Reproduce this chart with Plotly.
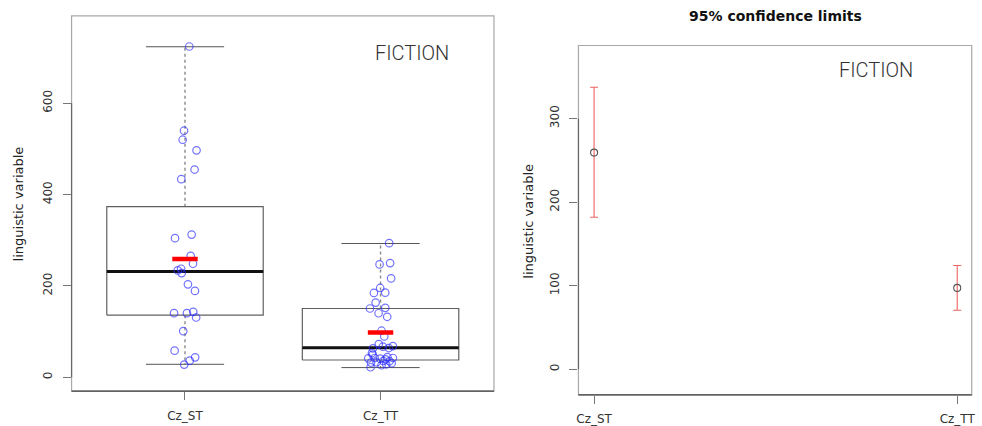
import plotly.graph_objects as go

# ---------------- data ----------------
groups = ["Cz_ST", "Cz_TT"]

st_values = [724, 539.7, 520, 496.8, 454.7, 433.6, 312.3, 304.4, 265.8, 248.4,
             233.8, 237.5, 228, 203.3, 188.9, 140.2, 140.2, 143.1, 130.7, 100.9,
             58.1, 43.6, 36.3, 27.6]
st_jitter = [0.022, -0.005, -0.012, 0.059, 0.049, -0.019, 0.034, -0.051, 0.029, 0.041,
             -0.037, -0.020, -0.017, 0.015, 0.051, -0.056, 0.010, 0.042, 0.057, -0.009,
             -0.053, 0.052, 0.024, -0.004]

tt_values = [293.5, 246.9, 249.9, 216.4, 195.4, 184.5, 185.2, 163.4, 150.4, 151.9,
             140.1, 132.3, 101.8, 89.3, 72.6, 63.2, 66.9, 63.9, 68.2, 53.0,
             41.4, 42.1, 40.7, 39.2, 42.1, 32.0, 32.7, 35.5, 34.9, 30.5,
             21.8, 26.2, 28.3, 49.5, 44.0]
tt_jitter = [0.044, -0.005, 0.049, 0.054, -0.002, -0.034, 0.024, -0.025, -0.054, 0.024,
             -0.010, 0.034, 0.005, 0.019, -0.009, -0.039, 0.012, 0.042, 0.063, -0.044,
             -0.063, -0.030, -0.002, 0.025, 0.063, -0.049, -0.020, 0.014, 0.046, 0.057,
             -0.051, 0.005, 0.029, -0.040, 0.035]

# box statistics
q1 = [135.8, 37.7]
median = [231.7, 64.7]
q3 = [373.4, 150.4]
whisker_low = [28.3, 21.1]
whisker_high = [723.5, 292.7]
means = [258.6, 98.0]

# 95% confidence limits (right panel)
ci_mean = [259.2, 97.3]
ci_lower = [181.8, 70.6]
ci_upper = [337.3, 124.2]

left_yticks = [0, 200, 400, 600]
right_yticks = [0, 100, 200, 300]

# ---------------- figure ----------------
BOX_W = 0.8
CAP_W = 0.4
MEAN_W = 0.13
FRAME = "#a8a8a8"
AXC = "#444444"
FONT = "DejaVu Sans"

fig = go.Figure()

for i, g in enumerate(groups):
    p = i + 1
    # whiskers (dashed)
    fig.add_trace(go.Scatter(x=[p, p], y=[q3[i], whisker_high[i]], mode="lines",
                             line=dict(color="#8a8a8a", width=1.4, dash="3px,3px"),
                             xaxis="x", yaxis="y", hoverinfo="skip"))
    fig.add_trace(go.Scatter(x=[p, p], y=[q1[i], whisker_low[i]], mode="lines",
                             line=dict(color="#8a8a8a", width=1.4, dash="3px,3px"),
                             xaxis="x", yaxis="y", hoverinfo="skip"))
    # caps
    for v in (whisker_low[i], whisker_high[i]):
        fig.add_trace(go.Scatter(x=[p - CAP_W / 2, p + CAP_W / 2], y=[v, v], mode="lines",
                                 line=dict(color="#555555", width=1),
                                 xaxis="x", yaxis="y", hoverinfo="skip"))
    # box
    fig.add_trace(go.Scatter(x=[p - BOX_W / 2, p + BOX_W / 2, p + BOX_W / 2, p - BOX_W / 2, p - BOX_W / 2],
                             y=[q1[i], q1[i], q3[i], q3[i], q1[i]], mode="lines",
                             line=dict(color="#606060", width=1.2),
                             xaxis="x", yaxis="y", hoverinfo="skip"))
    # median
    fig.add_trace(go.Scatter(x=[p - BOX_W / 2, p + BOX_W / 2], y=[median[i], median[i]], mode="lines",
                             line=dict(color="#111111", width=3),
                             xaxis="x", yaxis="y", hoverinfo="skip"))

# jittered points
for i, (vals, jit) in enumerate([(st_values, st_jitter), (tt_values, tt_jitter)]):
    fig.add_trace(go.Scatter(x=[i + 1 + j for j in jit], y=vals, mode="markers",
                             marker=dict(symbol="circle-open", size=7.5, color="rgba(40,40,255,0.65)",
                                         line=dict(width=1.2)),
                             xaxis="x", yaxis="y"))

# means (red bars)
for i, m in enumerate(means):
    p = i + 1
    fig.add_trace(go.Scatter(x=[p - MEAN_W / 2, p + MEAN_W / 2], y=[m, m], mode="lines",
                             line=dict(color="#ff0000", width=4.5),
                             xaxis="x", yaxis="y", hoverinfo="skip"))

# right panel: confidence limits
fig.add_trace(go.Scatter(
    x=[1, 2], y=ci_mean, mode="markers",
    marker=dict(symbol="circle-open", size=7, color="#555555", line=dict(width=1.1)),
    error_y=dict(type="data", symmetric=False,
                 array=[u - m for u, m in zip(ci_upper, ci_mean)],
                 arrayminus=[m - l for m, l in zip(ci_mean, ci_lower)],
                 color="rgba(235,70,70,0.85)", thickness=1.1, width=4),
    xaxis="x2", yaxis="y2"))

tickfont = dict(family=FONT, size=12, color="#333333")

fig.update_layout(
    width=982, height=426,
    margin=dict(l=0, r=0, t=0, b=0),
    paper_bgcolor="white", plot_bgcolor="white",
    showlegend=False,
    xaxis=dict(domain=[70 / 982, 495 / 982], range=[0.42, 2.58],
               tickvals=[1, 2], ticktext=groups, ticks="outside", ticklen=8,
               tickcolor="#777777", tickfont=tickfont, showgrid=False, zeroline=False,
               showline=False, anchor="y", fixedrange=True, ticklabelstandoff=5),
    yaxis=dict(domain=[33 / 426, 410 / 426], range=[-30.5, 791],
               tickvals=left_yticks, ticks="outside", ticklen=8, tickangle=-90,
               tickcolor="#777777", tickfont=tickfont, showgrid=False, zeroline=False,
               showline=False, anchor="x", fixedrange=True, ticklabelstandoff=6),
    xaxis2=dict(domain=[580 / 982, 975.7 / 982], range=[0.957, 2.04],
                tickvals=[1, 2], ticktext=groups, ticks="outside", ticklen=8,
                tickcolor="#777777", tickfont=tickfont, showgrid=False, zeroline=False,
                showline=False, anchor="y2", fixedrange=True, ticklabelstandoff=5),
    yaxis2=dict(domain=[29.3 / 426, 380.3 / 426], range=[-30.6, 387.3],
                tickvals=right_yticks, ticks="outside", ticklen=8, tickangle=-90,
                tickcolor="#777777", tickfont=tickfont, showgrid=False, zeroline=False,
                showline=False, anchor="x2", fixedrange=True, ticklabelstandoff=6),
)

# frames and axis lines
for xa, ya, top_tick in (("x", "y", left_yticks[-1]), ("x2", "y2", right_yticks[-1])):
    fig.add_shape(type="rect", xref=f"{xa} domain", yref=f"{ya} domain",
                  x0=0, x1=1, y0=0, y1=1, line=dict(color=FRAME, width=1.2), layer="below")
    fig.add_shape(type="line", xref=f"{xa} domain", yref=f"{ya} domain",
                  x0=0, x1=1, y0=0, y1=0, line=dict(color=AXC, width=1.2))
    fig.add_shape(type="line", xref=f"{xa} domain", yref=ya,
                  x0=0, x1=0, y0=0, y1=top_tick, line=dict(color="#666666", width=1.2))

annos = [
    dict(text="FICTION", x=413 / 982, y=1 - 53 / 426, font=dict(family="Roboto", size=20, color="#333333", weight=300)),
    dict(text="FICTION", x=879.5 / 982, y=1 - 70.5 / 426, font=dict(family="Roboto", size=20, color="#333333", weight=300)),
    dict(text="95% confidence limits", x=778 / 982, y=1 - 16.5 / 426,
         font=dict(family="DejaVu Sans", size=14, color="#111111", weight="bold")),
    dict(text="linguistic variable", x=17 / 982, y=1 - 204.5 / 426, textangle=-90,
         font=dict(family=FONT, size=13, color="#222222")),
    dict(text="linguistic variable", x=530 / 982, y=1 - 222 / 426, textangle=-90,
         font=dict(family=FONT, size=13, color="#222222")),
]
for a in annos:
    fig.add_annotation(xref="paper", yref="paper", showarrow=False,
                       xanchor="center", yanchor="middle", **a)

fig.write_html("out.html", config={"displayModeBar": False},
               post_script="document.body.style.margin='0';document.body.style.overflow='hidden';")
